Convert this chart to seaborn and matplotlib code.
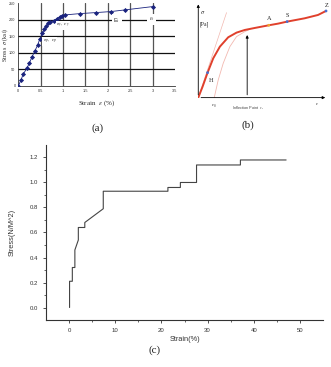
import numpy as np
import pandas as pd
import seaborn as sns
import matplotlib.pyplot as plt

sns.set_style('white')
plt.rcParams['font.family'] = ['Liberation Sans', 'DejaVu Sans']
plt.rcParams['mathtext.fontset'] = 'stix'

# (a) stress-strain test points
strain_a = [0, 0.06, 0.11, 0.19, 0.25, 0.31, 0.37, 0.43, 0.48, 0.54, 0.58, 0.63, 0.67, 0.71,
            0.8, 0.87, 0.93, 0.98, 1.05, 1.39, 1.74, 2.07, 2.38, 3.0]
stress_a = [0, 18, 36, 53, 70, 89, 106, 123, 142, 159, 171, 182, 189, 194,
            198, 204, 209, 213, 215, 219, 222, 225, 230, 240]

# (b) schematic curve
curve_x = [0, 1.3, 2.8, 4.5, 6.5, 9, 11.5, 14, 17, 21.2, 24, 26.7, 32, 36, 38.4]
curve_y = [0, 3.3, 7.5, 11.8, 15.3, 18.1, 19.5, 20.3, 20.9, 21.7, 22.2, 22.8, 23.8, 24.8, 26]
tangent_x = [0, 8.5]
tangent_y = [0, 25.5]
offset_x = [4.8, 6, 7.5, 9.5, 11.5, 14, 15.5]
offset_y = [0, 5.3, 10.3, 15.3, 18.3, 19.8, 20.5]
pts_name = ['H', 'A', 'S', 'Z']
pts_x = [2.8, 21.2, 26.7, 38.4]
pts_y = [7.5, 21.7, 22.8, 26]
inflect_x = 14.7
inflect_y = 19.6

# (c) step curve
strain_c = [0.1, 0.1, 0.7, 0.7, 1.25, 1.25, 2.0, 2.0, 3.4, 3.4, 7.4, 7.4, 21.4, 21.4,
            24.1, 24.1, 27.6, 27.6, 37.1, 37.1, 47]
stress_c = [0, 0.21, 0.21, 0.32, 0.32, 0.46, 0.54, 0.64, 0.64, 0.68, 0.79, 0.93, 0.93, 0.96,
            0.96, 1.0, 1.0, 1.14, 1.14, 1.18, 1.18]

fig = plt.figure(figsize=(3.31, 3.67), dpi=100)

# ---------- (a)
axa = fig.add_axes([0.0553, 0.7657, 0.473, 0.2253])
axa.set_xlim(0, 3.5)
axa.set_ylim(0, 250)
axa.set_xticks(np.arange(0, 3.51, 0.5))
axa.set_xticklabels(['0', '0.5', '1', '1.5', '2', '2.5', '3', '3.5'])
axa.set_yticks([0, 50, 100, 150, 200, 250])
for v in [0.5, 1, 1.5, 2, 2.5, 3]:
    axa.axvline(v, color='#555555', lw=0.9, zorder=1)
for v in [50, 100, 150, 200]:
    axa.axhline(v, color='#111111', lw=0.9, zorder=1)
df_a = pd.DataFrame({'strain': strain_a, 'stress': stress_a})
sns.lineplot(data=df_a, x='strain', y='stress', ax=axa, color='#1a237e', lw=0.6,
             marker='D', markersize=2.6, markeredgewidth=0, sort=False, estimator=None, zorder=3)
axa.tick_params(labelsize=2.8, length=0, pad=2, colors='#333333')
for s in ['top', 'right']:
    axa.spines[s].set_visible(False)
for s in ['left', 'bottom']:
    axa.spines[s].set_color('#333333')
    axa.spines[s].set_linewidth(0.6)
axa.set_xlabel(r'Strain  $\varepsilon$ (%)', fontsize=5, family='Liberation Serif', labelpad=4)
axa.set_ylabel('')
fig.text(5 / 331, 1 - 45 / 367, r'Stress  $\sigma$ (ksi)', fontsize=4.3, family='Liberation Serif',
         rotation=90, ha='center', va='center')
box = dict(facecolor='white', edgecolor='none', pad=0.4)
axa.text(0.7, 135, r'$\sigma_p,\ \varepsilon_p$', fontsize=3.8, ha='center', va='center', bbox=box, zorder=4)
axa.text(1.0, 183, r'$\sigma_y,\ \varepsilon_y$', fontsize=3.8, ha='center', va='center', bbox=box, zorder=4)
axa.text(2.2, 198, r'E$_t$', fontsize=4, ha='center', va='center', bbox=dict(facecolor='white', edgecolor='none', pad=1.2), zorder=4)
axa.text(2.98, 201, r'$\varepsilon_t$', fontsize=4, ha='center', va='center', bbox=dict(facecolor='white', edgecolor='none', pad=1.2), zorder=4)
fig.text(98 / 331, 1 - 128 / 367, '(a)', fontsize=8, family='Liberation Serif', ha='center', va='center')

# ---------- (b)
axb = fig.add_axes([0.599, 0.734, 0.392, 0.2616])
axb.set_xlim(0, 39)
axb.set_ylim(0, 28.8)
axb.axis('off')
axb.annotate('', xy=(39, 0), xytext=(0, 0),
             arrowprops=dict(arrowstyle='-|>', color='black', lw=0.6, mutation_scale=4))
axb.annotate('', xy=(0, 28.8), xytext=(0, 0),
             arrowprops=dict(arrowstyle='-|>', color='black', lw=0.6, mutation_scale=4))
sns.lineplot(x=tangent_x, y=tangent_y, ax=axb, color='#f2b8b0', lw=0.5, sort=False, estimator=None)
sns.lineplot(x=offset_x, y=offset_y, ax=axb, color='#f2b8b0', lw=0.6, sort=False, estimator=None)
sns.lineplot(x=curve_x, y=curve_y, ax=axb, color='#e0402c', lw=1.4, sort=False, estimator=None)
axb.annotate('', xy=(inflect_x, inflect_y), xytext=(inflect_x, 0),
             arrowprops=dict(arrowstyle='-|>', color='black', lw=0.6, mutation_scale=4))
sns.scatterplot(x=pts_x, y=pts_y, ax=axb, hue=pts_name,
                palette=['#4a6fd0', '#f0a830', '#4a6fd0', '#4a6fd0'],
                s=4, linewidth=0, legend=False, zorder=5)
axb.text(3.3, 5.2, 'H', fontsize=4.5, family='Liberation Serif', ha='left', va='center')
axb.text(21.3, 23.6, 'A', fontsize=4.5, family='Liberation Serif', ha='center', va='center')
axb.text(26.8, 24.6, 'S', fontsize=4.5, family='Liberation Serif', ha='center', va='center')
axb.text(38.5, 27.5, 'Z', fontsize=4.5, family='Liberation Serif', ha='center', va='center')
axb.text(0.6, 25.5, r'$\sigma$', fontsize=4.5, ha='left', va='center')
axb.text(0.4, 22.0, '[Pa]', fontsize=4, family='Liberation Serif', ha='left', va='center')
axb.text(4.8, -2.5, r'$\varepsilon_0$', fontsize=3.5, ha='center', va='center')
axb.text(15, -3.2, r'Inflection Point  $\varepsilon_I$', fontsize=2.8, ha='center', va='center', color='#444444')
axb.text(35.8, -1.9, r'$\varepsilon$', fontsize=3.5, ha='center', va='center')
fig.text(248 / 331, 1 - 125 / 367, '(b)', fontsize=8, family='Liberation Serif', ha='center', va='center')

# ---------- (c)
axc = fig.add_axes([0.139, 0.128, 0.837, 0.477])
df_c = pd.DataFrame({'strain': strain_c, 'stress': stress_c})
sns.lineplot(data=df_c, x='strain', y='stress', ax=axc, color='#444444', lw=0.8,
             sort=False, estimator=None)
axc.set_xlim(-5, 55)
axc.set_ylim(-0.1, 1.3)
axc.set_xticks([0, 10, 20, 30, 40, 50])
axc.set_xticks(np.arange(5, 55, 10), minor=True)
axc.set_yticks([0.0, 0.2, 0.4, 0.6, 0.8, 1.0, 1.2])
axc.set_yticks(np.arange(0.1, 1.3, 0.2), minor=True)
axc.set_yticklabels(['0.0', '0.2', '0.4', '0.6', '0.8', '1.0', '1.2'])
axc.tick_params(which='major', direction='out', length=2.5, width=0.6, labelsize=4.3,
                colors='#333333', left=True, bottom=True)
axc.tick_params(which='minor', direction='out', length=1.5, width=0.5, left=True, bottom=True)
for s in ['top', 'right']:
    axc.spines[s].set_visible(False)
for s in ['left', 'bottom']:
    axc.spines[s].set_color('#333333')
    axc.spines[s].set_linewidth(0.8)
axc.set_xlabel('Strain(%)', fontsize=5.3, color='#333333', labelpad=2)
axc.set_ylabel('Stress(N/M^2)', fontsize=5.3, color='#333333', labelpad=10)
fig.text(155 / 331, 1 - 350 / 367, '(c)', fontsize=8, family='Liberation Serif', ha='center', va='center')

fig.savefig('out.png', dpi=100)
